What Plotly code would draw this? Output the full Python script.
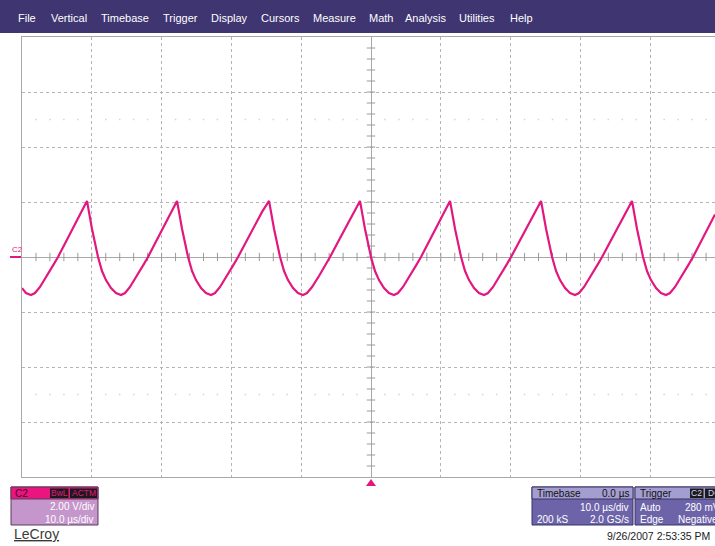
import plotly.graph_objects as go
import numpy as np

# ---------------- data ----------------
# Channel C2 trace: time in microseconds, voltage in volts
trace_time_us = [
    -50.00, -49.43, -48.71, -48.14, -47.42, -46.42, -45.42, -44.84, -43.55, -42.26, -41.40,
    -40.69, -39.97, -39.11, -38.54, -37.97, -37.25, -36.53, -35.82, -35.24, -34.53, -33.52, -32.52, -31.95, -30.66, -29.37, -28.51,
    -27.79, -27.07, -26.21, -25.64, -25.07, -24.35, -23.64, -22.92, -22.35, -21.63, -20.63, -19.62, -19.05, -17.76, -16.47, -15.61,
    -14.61, -13.89, -13.03, -12.46, -11.89, -11.17, -10.46, -9.74, -9.17, -8.45, -7.45, -6.44, -5.87, -4.58, -3.29, -2.43,
    -1.58, -0.86, 0.00, 0.57, 1.14, 1.86, 2.57, 3.29, 3.86, 4.58, 5.58, 6.59, 7.16, 8.45, 9.74, 10.60,
    11.32, 12.04, 12.90, 13.47, 14.04, 14.76, 15.47, 16.19, 16.76, 17.48, 18.48, 19.49, 20.06, 21.35, 22.64, 23.50,
    24.36, 25.08, 25.94, 26.51, 27.08, 27.80, 28.51, 29.23, 29.80, 30.52, 31.52, 32.53, 33.10, 34.39, 35.68, 36.54,
    37.39, 38.11, 38.97, 39.54, 40.11, 40.83, 41.54, 42.26, 42.83, 43.55, 44.55, 45.56, 46.13, 47.42, 48.71, 49.28,
]
trace_volts = [
    -1.13, -1.31, -1.38, -1.31, -1.09, -0.69, -0.25, 0.00, 0.62, 1.24, 1.64,
    2.04, 1.02, 0.00, -0.51, -0.84, -1.13, -1.31, -1.38, -1.31, -1.09, -0.69, -0.25, 0.00, 0.62, 1.24, 1.64,
    2.04, 1.02, 0.00, -0.51, -0.84, -1.13, -1.31, -1.38, -1.31, -1.09, -0.69, -0.25, 0.00, 0.62, 1.24, 1.64,
    2.04, 1.02, 0.00, -0.51, -0.84, -1.13, -1.31, -1.38, -1.31, -1.09, -0.69, -0.25, 0.00, 0.62, 1.24, 1.64,
    2.04, 1.02, 0.00, -0.51, -0.84, -1.13, -1.31, -1.38, -1.31, -1.09, -0.69, -0.25, 0.00, 0.62, 1.24, 1.64,
    2.04, 1.02, 0.00, -0.51, -0.84, -1.13, -1.31, -1.38, -1.31, -1.09, -0.69, -0.25, 0.00, 0.62, 1.24, 1.64,
    2.04, 1.02, 0.00, -0.51, -0.84, -1.13, -1.31, -1.38, -1.31, -1.09, -0.69, -0.25, 0.00, 0.62, 1.24, 1.64,
    2.04, 1.02, 0.00, -0.51, -0.84, -1.13, -1.31, -1.38, -1.31, -1.09, -0.69, -0.25, 0.00, 0.62, 1.24, 1.55,
]

menu_items = ["File", "Vertical", "Timebase", "Trigger", "Display", "Cursors",
              "Measure", "Math", "Analysis", "Utilities", "Help"]
menu_x_px = [16, 49, 99, 161, 209, 259, 311, 367, 403, 457, 508]

ch_label = "C2"
ch_tags = ["BwL", "ACTM"]
ch_vdiv = "2.00 V/div"
ch_tdiv = "10.0 µs/div"
tb_title, tb_delay, tb_tdiv, tb_samples, tb_rate = "Timebase", "0.0 µs", "10.0 µs/div", "200 kS", "2.0 GS/s"
trig_title, trig_mode, trig_level, trig_type, trig_slope = "Trigger", "Auto", "280 mV", "Edge", "Negative"
trig_tags = ["C2", "DC"]
timestamp = "9/26/2007 2:53:35 PM"
brand = "LeCroy"

# ---------------- styling ----------------
W, H = 715, 546
TRACE = "#E2177F"
MENU = "#3E3571"
FONT = "Liberation Sans, Arial, sans-serif"


def px(x):
    return x / W


def py(y):
    return 1 - y / H


fig = go.Figure()

# graticule centre ticks
xt = [t for t in np.arange(-48, 50, 2)]
yt = [round(v, 2) for v in np.arange(-7.6, 8.0, 0.4)]
fig.add_trace(go.Scatter(x=xt, y=[0] * len(xt), mode="markers", hoverinfo="skip",
                         marker=dict(symbol="line-ns", size=6, line=dict(width=1, color="#9a9a9a"))))
fig.add_trace(go.Scatter(x=[0] * len(yt), y=yt, mode="markers", hoverinfo="skip",
                         marker=dict(symbol="line-ew", size=6, line=dict(width=1, color="#9a9a9a"))))
# faint dot rows
dx = [t for t in np.arange(-48, 50, 2) if abs(t) % 10 != 0]
fig.add_trace(go.Scatter(x=dx + dx, y=[5] * len(dx) + [-5] * len(dx), mode="markers", hoverinfo="skip",
                         marker=dict(symbol="square", size=1.5, color="#d4d4d4")))

# waveform
fig.add_trace(go.Scatter(x=trace_time_us, y=trace_volts, mode="lines", hoverinfo="skip",
                         line=dict(color=TRACE, width=2.2)))

shapes = []
ann = []

# menu bar
shapes.append(dict(type="rect", xref="paper", yref="paper", x0=0, x1=1, y0=py(33), y1=1,
                   fillcolor=MENU, line=dict(width=0), layer="above"))
for name, x in zip(menu_items, menu_x_px):
    ann.append(dict(text=name, x=px(x), y=py(18), xref="paper", yref="paper", xanchor="left",
                    yanchor="middle", showarrow=False, font=dict(family=FONT, size=11, color="white")))

# C2 marker on left edge
shapes.append(dict(type="line", xref="paper", yref="paper", x0=px(10), x1=px(21), y0=py(257), y1=py(257),
                   line=dict(color=TRACE, width=2)))
ann.append(dict(text="C2", x=px(10), y=py(250), xref="paper", yref="paper", xanchor="left", yanchor="middle",
                showarrow=False, font=dict(family=FONT, size=8, color=TRACE)))

# trigger position marker
shapes.append(dict(type="path", xref="paper", yref="paper",
                   path=f"M {px(366)},{py(486)} L {px(376)},{py(486)} L {px(371)},{py(479)} Z",
                   fillcolor=TRACE, line=dict(width=0)))

# channel descriptor box
shapes.append(dict(type="rect", xref="paper", yref="paper", x0=px(11), x1=px(98), y0=py(525), y1=py(487),
                   fillcolor="#C596CB", line=dict(color="#5a3a5e", width=1)))
shapes.append(dict(type="rect", xref="paper", yref="paper", x0=px(11), x1=px(98), y0=py(499), y1=py(487),
                   fillcolor="#EA157F", line=dict(color="#5a3a5e", width=1)))
shapes.append(dict(type="rect", xref="paper", yref="paper", x0=px(50), x1=px(68.5), y0=py(498), y1=py(488.5),
                   fillcolor="#1a1a1a", line=dict(width=0)))
shapes.append(dict(type="rect", xref="paper", yref="paper", x0=px(70), x1=px(97), y0=py(498), y1=py(488.5),
                   fillcolor="#1a1a1a", line=dict(width=0)))
ann.append(dict(text=ch_label, x=px(13), y=py(493), xref="paper", yref="paper", xanchor="left", yanchor="middle",
                showarrow=False, font=dict(family=FONT, size=10, color="#3a0a22")))
ann.append(dict(text=ch_tags[0], x=px(59.3), y=py(493.3), xref="paper", yref="paper", xanchor="center",
                yanchor="middle", showarrow=False, font=dict(family=FONT, size=8.5, color=TRACE)))
ann.append(dict(text=ch_tags[1], x=px(83.5), y=py(493.3), xref="paper", yref="paper", xanchor="center",
                yanchor="middle", showarrow=False, font=dict(family=FONT, size=8.5, color=TRACE)))
ann.append(dict(text=ch_vdiv, x=px(96), y=py(506), xref="paper", yref="paper", xanchor="right", yanchor="middle",
                showarrow=False, font=dict(family=FONT, size=10, color="white")))
ann.append(dict(text=ch_tdiv, x=px(96), y=py(519), xref="paper", yref="paper", xanchor="right", yanchor="middle",
                showarrow=False, font=dict(family=FONT, size=10, color="white")))

# brand
ann.append(dict(text=f"<u>{brand}</u>", x=px(12), y=py(534), xref="paper", yref="paper", xanchor="left",
                yanchor="middle", showarrow=False, font=dict(family=FONT, size=14, color="#3a3a3a")))

# timebase box
shapes.append(dict(type="rect", xref="paper", yref="paper", x0=px(532), x1=px(633), y0=py(525), y1=py(487),
                   fillcolor="#6C63A8", line=dict(color="#3a3466", width=1)))
shapes.append(dict(type="rect", xref="paper", yref="paper", x0=px(532), x1=px(633), y0=py(499), y1=py(487),
                   fillcolor="#A49DCF", line=dict(color="#3a3466", width=1)))
ann.append(dict(text=tb_title, x=px(535), y=py(493), xref="paper", yref="paper", xanchor="left", yanchor="middle",
                showarrow=False, font=dict(family=FONT, size=10, color="#111")))
ann.append(dict(text=tb_delay, x=px(631), y=py(493), xref="paper", yref="paper", xanchor="right", yanchor="middle",
                showarrow=False, font=dict(family=FONT, size=10, color="#111")))
ann.append(dict(text=tb_tdiv, x=px(631), y=py(507), xref="paper", yref="paper", xanchor="right", yanchor="middle",
                showarrow=False, font=dict(family=FONT, size=10, color="white")))
ann.append(dict(text=tb_samples, x=px(535), y=py(519), xref="paper", yref="paper", xanchor="left",
                yanchor="middle", showarrow=False, font=dict(family=FONT, size=10, color="white")))
ann.append(dict(text=tb_rate, x=px(631), y=py(519), xref="paper", yref="paper", xanchor="right", yanchor="middle",
                showarrow=False, font=dict(family=FONT, size=10, color="white")))

# trigger box
shapes.append(dict(type="rect", xref="paper", yref="paper", x0=px(635), x1=px(740), y0=py(525), y1=py(487),
                   fillcolor="#6C63A8", line=dict(color="#3a3466", width=1)))
shapes.append(dict(type="rect", xref="paper", yref="paper", x0=px(635), x1=px(740), y0=py(499), y1=py(487),
                   fillcolor="#A49DCF", line=dict(color="#3a3466", width=1)))
shapes.append(dict(type="rect", xref="paper", yref="paper", x0=px(690), x1=px(703.5), y0=py(498), y1=py(488.5),
                   fillcolor="#1a1a1a", line=dict(width=0)))
shapes.append(dict(type="rect", xref="paper", yref="paper", x0=px(705), x1=px(725), y0=py(498), y1=py(488.5),
                   fillcolor="#1a1a1a", line=dict(width=0)))
ann.append(dict(text=trig_title, x=px(638), y=py(493), xref="paper", yref="paper", xanchor="left",
                yanchor="middle", showarrow=False, font=dict(family=FONT, size=10, color="#111")))
ann.append(dict(text=trig_tags[0], x=px(696.8), y=py(493.3), xref="paper", yref="paper", xanchor="center",
                yanchor="middle", showarrow=False, font=dict(family=FONT, size=8.5, color="#D8D4F0")))
ann.append(dict(text=trig_tags[1], x=px(706), y=py(493.3), xref="paper", yref="paper", xanchor="left",
                yanchor="middle", showarrow=False, font=dict(family=FONT, size=8.5, color="#D8D4F0")))
ann.append(dict(text=trig_mode, x=px(638), y=py(507), xref="paper", yref="paper", xanchor="left",
                yanchor="middle", showarrow=False, font=dict(family=FONT, size=10, color="white")))
ann.append(dict(text=trig_level, x=px(722), y=py(507), xref="paper", yref="paper", xanchor="right",
                yanchor="middle", showarrow=False, font=dict(family=FONT, size=10, color="white")))
ann.append(dict(text=trig_type, x=px(638), y=py(519), xref="paper", yref="paper", xanchor="left",
                yanchor="middle", showarrow=False, font=dict(family=FONT, size=10, color="white")))
ann.append(dict(text=trig_slope, x=px(720), y=py(519), xref="paper", yref="paper", xanchor="right",
                yanchor="middle", showarrow=False, font=dict(family=FONT, size=10, color="white")))

# timestamp
ann.append(dict(text=timestamp, x=px(712), y=py(536), xref="paper", yref="paper", xanchor="right",
                yanchor="middle", showarrow=False, font=dict(family=FONT, size=10.5, color="#222")))

axis_common = dict(showgrid=True, gridcolor="#b4b4b4", griddash="dot", gridwidth=1,
                   zeroline=True, zerolinecolor="#a8a8a8", zerolinewidth=1,
                   showticklabels=False, ticks="", showline=True, linecolor="#a8a8a8", linewidth=1,
                   fixedrange=True)

fig.update_layout(
    width=W, height=H, margin=dict(l=0, r=0, t=0, b=0),
    paper_bgcolor="white", plot_bgcolor="white", showlegend=False,
    xaxis=dict(range=[-50, 49.28], domain=[px(22), 1], dtick=10, tick0=0, mirror=True, **axis_common),
    yaxis=dict(range=[-8, 8], domain=[py(477), py(37)], dtick=2, tick0=0, **axis_common),
    shapes=shapes, annotations=ann,
)

fig.write_html("out.html", config={"displayModeBar": False},
               post_script="document.body.style.margin='0';document.body.style.overflow='hidden';")
